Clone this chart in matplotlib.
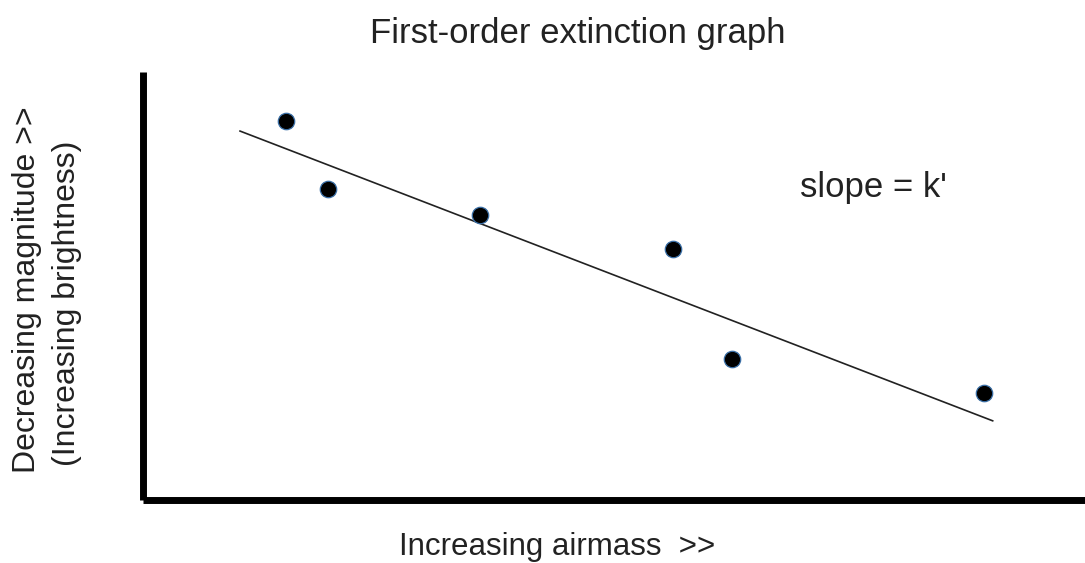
import matplotlib.pyplot as plt

# Data (arbitrary units, axes span 0..10)
airmass = [1.52, 1.96, 3.58, 5.63, 6.25, 8.93]
brightness = [8.86, 7.27, 6.66, 5.86, 3.29, 2.50]
fit_x = [1.03, 9.02]
fit_y = [8.62, 1.85]

plt.rcParams['font.family'] = ['Liberation Sans', 'DejaVu Sans']

W, H = 1085, 563
fig = plt.figure(figsize=(W / 100, H / 100), dpi=100)
ax = fig.add_axes([143 / W, 1 - 500 / H, 942 / W, 428 / H])

ax.plot(fit_x, fit_y, color='#222222', lw=1.2)
ax.scatter(airmass, brightness, s=140, color='black', edgecolors='#3a6ea5', linewidths=0.9, zorder=3)

ax.set_xlim(0, 10)
ax.set_ylim(0, 10)
ax.set_xticks([])
ax.set_yticks([])
for side in ['top', 'right']:
    ax.spines[side].set_visible(False)
for side in ['left', 'bottom']:
    ax.spines[side].set_linewidth(5)
    ax.spines[side].set_color('black')
    ax.spines[side].set_capstyle('butt')

txt = '#222222'
fig.text(800 / W, 1 - 197 / H, "slope = k'", fontsize=25, ha='left', va='baseline', color=txt)
fig.text(578 / W, 1 - 43 / H, 'First-order extinction graph', fontsize=25, ha='center', va='baseline', color=txt)
fig.text(557 / W, 1 - 555 / H, 'Increasing airmass  >>', fontsize=22.5, ha='center', va='baseline', color=txt)
fig.text(27 / W, 1 - 290 / H, 'Decreasing magnitude >>', fontsize=23,
         ha='center', va='center', rotation=90, color=txt)
fig.text(67 / W, 1 - 303 / H, '(Increasing brightness)', fontsize=23,
         ha='center', va='center', rotation=90, color=txt)

fig.savefig('out.png', dpi=100)
